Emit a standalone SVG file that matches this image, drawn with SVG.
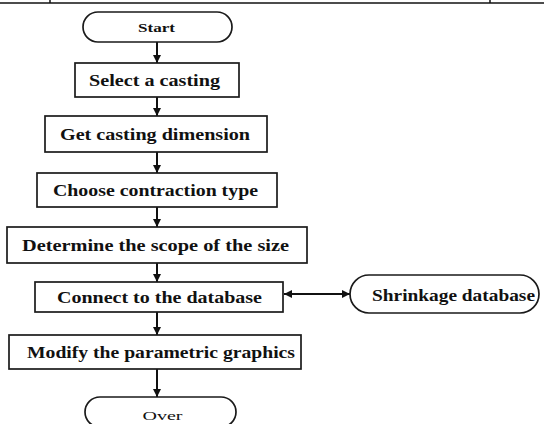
<svg xmlns="http://www.w3.org/2000/svg" width="544" height="424" viewBox="0 0 544 424">
<style>
.box{fill:#fff;stroke:#1a1a1a;stroke-width:1.7}
.t{font-family:"Liberation Serif","Times New Roman",serif;font-weight:bold;font-size:17px;fill:#111}
.s{font-family:"Liberation Serif","Times New Roman",serif;font-weight:bold;font-size:12px;fill:#111}
.o{font-family:"Liberation Serif","Times New Roman",serif;font-weight:normal;font-size:12px;fill:#111}
.c{stroke:#111;stroke-width:2;fill:none}
.frame{stroke:#111;stroke-width:1.5;fill:none}
</style>
<defs>
<marker id="ah" viewBox="0 0 10 10" refX="10" refY="5" markerWidth="4" markerHeight="4" orient="auto-start-reverse" markerUnits="strokeWidth">
<path d="M0,0 L10,5 L0,10 z" fill="#111"/>
</marker>
</defs>
<g id="frame">
<line class="frame" x1="0" y1="3" x2="544" y2="3"/>
<line class="frame" x1="50" y1="0" x2="50" y2="3"/>
<line class="frame" x1="490" y1="0" x2="490" y2="3"/>
</g>
<g id="connectors">
<line class="c" x1="157" y1="42" x2="157" y2="63" marker-end="url(#ah)"/>
<line class="c" x1="157" y1="97" x2="157" y2="116" marker-end="url(#ah)"/>
<line class="c" x1="157" y1="152" x2="157" y2="173" marker-end="url(#ah)"/>
<line class="c" x1="157" y1="207" x2="157" y2="227" marker-end="url(#ah)"/>
<line class="c" x1="157" y1="263" x2="157" y2="282" marker-end="url(#ah)"/>
<line class="c" x1="157" y1="312" x2="157" y2="335" marker-end="url(#ah)"/>
<line class="c" x1="157" y1="369" x2="157" y2="397" marker-end="url(#ah)"/>
<line class="c" x1="284" y1="294" x2="350" y2="294" stroke-width="1.6" marker-start="url(#ah)" marker-end="url(#ah)"/>
</g>
<g id="start">
<rect class="box" x="83" y="12" width="149" height="30" rx="15"/>
<text class="s" x="156.5" y="32" text-anchor="middle" textLength="37" lengthAdjust="spacingAndGlyphs">Start</text>
</g>
<g id="select">
<rect class="box" x="75" y="63" width="164" height="34"/>
<text class="t" x="154.5" y="86" text-anchor="middle" textLength="131" lengthAdjust="spacingAndGlyphs">Select a casting</text>
</g>
<g id="getdim">
<rect class="box" x="45" y="116" width="222" height="36"/>
<text class="t" x="155" y="140" text-anchor="middle" textLength="190" lengthAdjust="spacingAndGlyphs">Get casting dimension</text>
</g>
<g id="choose">
<rect class="box" x="37" y="173" width="240" height="34"/>
<text class="t" x="155.5" y="196" text-anchor="middle" textLength="205" lengthAdjust="spacingAndGlyphs">Choose contraction type</text>
</g>
<g id="determine">
<rect class="box" x="7" y="227" width="300" height="36"/>
<text class="t" x="155.5" y="251" text-anchor="middle" textLength="267" lengthAdjust="spacingAndGlyphs">Determine the scope of the size</text>
</g>
<g id="connect">
<rect class="box" x="35" y="282" width="248" height="30"/>
<text class="t" x="159.5" y="303" text-anchor="middle" textLength="205" lengthAdjust="spacingAndGlyphs">Connect to the database</text>
</g>
<g id="shrinkage">
<rect class="box" x="350" y="275" width="189" height="38" rx="19"/>
<text class="t" x="453.5" y="300.5" text-anchor="middle" textLength="163" lengthAdjust="spacingAndGlyphs">Shrinkage database</text>
</g>
<g id="modify">
<rect class="box" x="9" y="335" width="292" height="34"/>
<text class="t" x="161" y="358" text-anchor="middle" textLength="268" lengthAdjust="spacingAndGlyphs">Modify the parametric graphics</text>
</g>
<g id="over">
<rect class="box" x="85" y="397" width="151" height="30" rx="15"/>
<text class="o" x="162.5" y="420" text-anchor="middle" textLength="40" lengthAdjust="spacingAndGlyphs">Over</text>
</g>
</svg>
